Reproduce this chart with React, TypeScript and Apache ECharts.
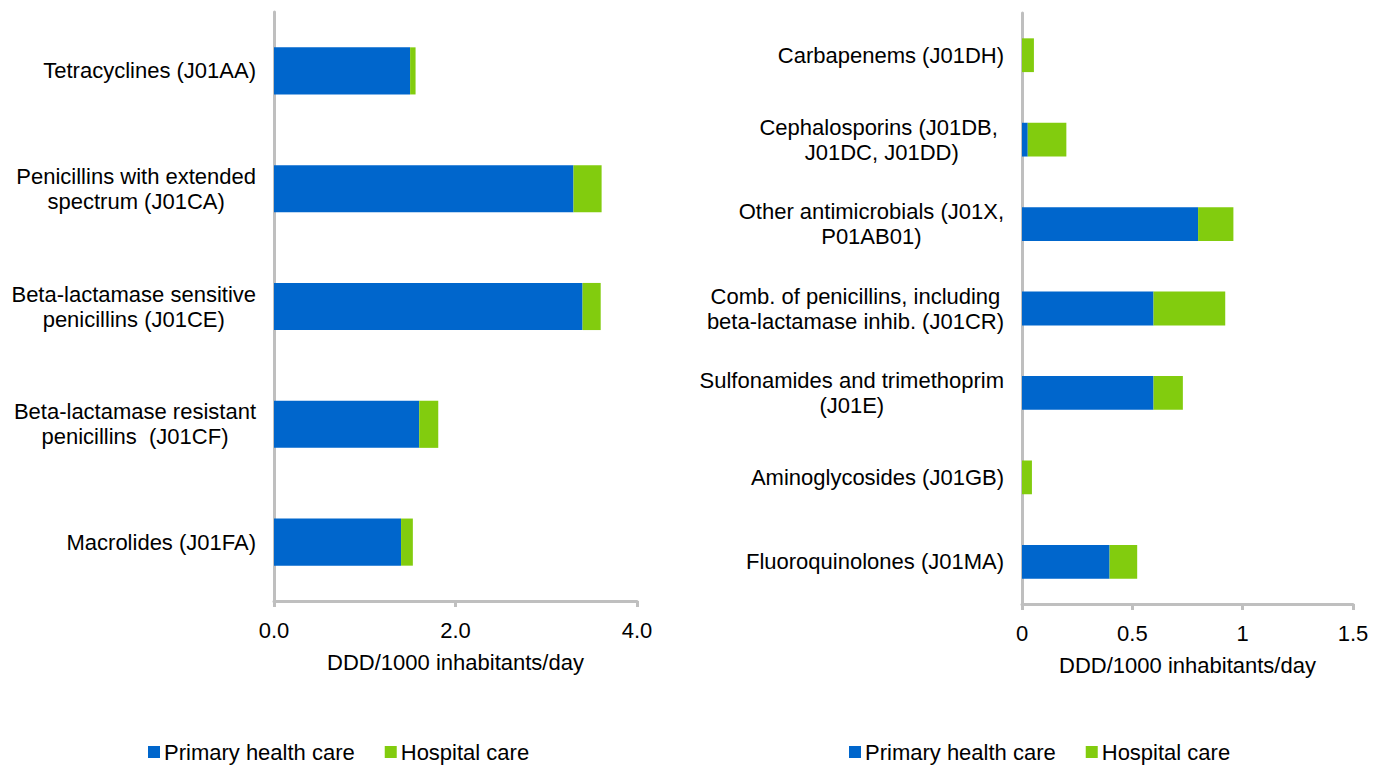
import React, { useEffect, useRef } from "react";
import * as echarts from "echarts";

const leftCategories = [
  "Tetracyclines (J01AA)",
  "Penicillins with extended\nspectrum (J01CA)",
  "Beta-lactamase sensitive\npenicillins (J01CE)",
  "Beta-lactamase resistant\npenicillins  (J01CF)",
  "Macrolides (J01FA)",
];
const leftPrimary = [1.5, 3.3, 3.4, 1.6, 1.4];
const leftHospital = [0.06, 0.31, 0.2, 0.21, 0.13];

const rightCategories = [
  "Carbapenems (J01DH)",
  "Cephalosporins (J01DB, \nJ01DC, J01DD)",
  "Other antimicrobials (J01X,\nP01AB01)",
  "Comb. of penicillins, including\nbeta-lactamase inhib. (J01CR)",
  "Sulfonamides and trimethoprim\n(J01E)",
  "Aminoglycosides (J01GB)",
  "Fluoroquinolones (J01MA)",
];
const rightPrimary = [0, 0.026, 0.798, 0.596, 0.596, 0, 0.397];
const rightHospital = [0.054, 0.175, 0.16, 0.325, 0.133, 0.045, 0.125];

const leftTicks = { min: 0, max: 4, interval: 2 };
const rightTicks = { min: 0, max: 1.5, interval: 0.5 };

const seriesNames = ["Primary health care", "Hospital care"];
const axisName = "DDD/1000 inhabitants/day";

const BLUE = "#0066CC";
const GREEN = "#82CC0E";
const GRAY = "#BFBFBF";
const FONT = "'Liberation Sans', Arial, sans-serif";
const FS = 22;

export default function App() {
  const ref = useRef<HTMLDivElement>(null);
  useEffect(() => {
    if (!ref.current) return;
    const chart = echarts.init(ref.current, undefined, { renderer: "svg" });
    const catLabel = (v: string) =>
      v
        .split("\n")
        .map((l) => `{c|${l}}`)
        .join("\n");
    const yAxisCommon = {
      type: "category" as const,
      inverse: true,
      axisLine: { lineStyle: { color: GRAY, width: 3 } },
      axisTick: { lineStyle: { color: GRAY, width: 3 }, length: 6 },
      axisLabel: {
        margin: 18,
        formatter: catLabel,
        rich: {
          c: {
            align: "center",
            fontSize: FS,
            lineHeight: 25,
            color: "#000",
            fontFamily: FONT,
          },
        },
      },
    };
    const xAxisCommon = {
      type: "value" as const,
      splitLine: { show: false },
      axisLine: { show: true, lineStyle: { color: GRAY, width: 3 } },
      axisTick: { show: true, lineStyle: { color: GRAY, width: 3 }, length: 6 },
      axisLabel: { margin: 18, fontSize: FS, color: "#000", fontFamily: FONT },
      name: axisName,
      nameLocation: "middle" as const,
      nameGap: 50,
      nameTextStyle: { fontSize: FS, color: "#000", fontFamily: FONT },
    };
    const legendCommon = {
      icon: "rect",
      itemWidth: 12,
      itemHeight: 12,
      itemGap: 30,
      padding: 0,
      top: 741,
      data: seriesNames,
      textStyle: { fontSize: FS, color: "#000", fontFamily: FONT, padding: [0, 0, 0, -1] },
    };
    chart.setOption({
      animation: false,
      textStyle: { fontFamily: FONT },
      grid: [
        { left: 274, top: 12, width: 363, height: 589 },
        { left: 1022, top: 13, width: 331, height: 591 },
      ],
      legend: [
        { ...legendCommon, left: 148 },
        { ...legendCommon, left: 849 },
      ],
      xAxis: [
        {
          ...xAxisCommon,
          gridIndex: 0,
          ...leftTicks,
          axisLabel: { ...xAxisCommon.axisLabel, formatter: (v: number) => v.toFixed(1) },
        },
        { ...xAxisCommon, gridIndex: 1, ...rightTicks },
      ],
      yAxis: [
        { ...yAxisCommon, gridIndex: 0, data: leftCategories },
        { ...yAxisCommon, gridIndex: 1, data: rightCategories },
      ],
      series: [
        {
          name: seriesNames[0],
          type: "bar",
          stack: "left",
          xAxisIndex: 0,
          yAxisIndex: 0,
          barWidth: "40%",
          itemStyle: { color: BLUE },
          data: leftPrimary,
        },
        {
          name: seriesNames[1],
          type: "bar",
          stack: "left",
          xAxisIndex: 0,
          yAxisIndex: 0,
          barWidth: "40%",
          itemStyle: { color: GREEN },
          data: leftHospital,
        },
        {
          name: seriesNames[0],
          type: "bar",
          stack: "right",
          xAxisIndex: 1,
          yAxisIndex: 1,
          barWidth: "40%",
          itemStyle: { color: BLUE },
          data: rightPrimary,
        },
        {
          name: seriesNames[1],
          type: "bar",
          stack: "right",
          xAxisIndex: 1,
          yAxisIndex: 1,
          barWidth: "40%",
          itemStyle: { color: GREEN },
          data: rightHospital,
        },
      ],
    });
    return () => chart.dispose();
  }, []);
  return (
    <div
      ref={ref}
      style={{ position: "absolute", left: 0, top: 0, width: 1386, height: 767, background: "#fff" }}
    />
  );
}
